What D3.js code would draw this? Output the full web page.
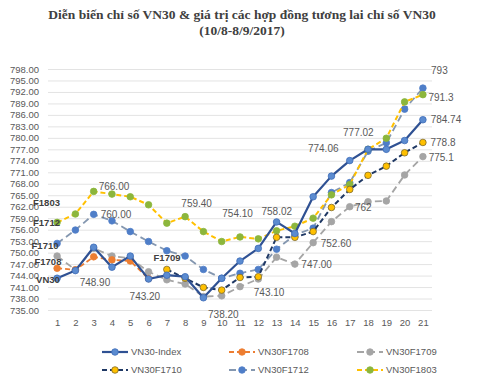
<!DOCTYPE html>
<html><head><meta charset="utf-8">
<script src="https://cdn.jsdelivr.net/npm/d3@7/dist/d3.min.js"></script>
<style>body{margin:0;background:#fff;} svg{display:block;}</style>
</head><body>
<svg id="chart" width="500" height="384"></svg>
<script>
const categories = d3.range(1, 22);
const yTicks = d3.range(735, 799, 3);
const titleLines = ["Diễn biến chỉ số VN30 & giá trị các hợp đồng tương lai chỉ số VN30", "(10/8-8/9/2017)"];

const vn30Index = [743.3, 745.3, 751.4, 746.2, 749.1, 743.1, 744.1, 743.7, 738.2, 743.3, 747.8, 751.1, 758.02, 755.0, 764.6, 770.0, 774.06, 777.02, 777.0, 779.3, 784.74];
const vn30F1708 = [745.9, 745.5, 748.9, 748.1, 747.8, 743.2, null, null, null, null, null, null, null, null, null, null, null, null, null, null, null];
const vn30F1709 = [749.1, 745.5, 751.1, 749.1, 748.5, 745.0, 742.9, 741.8, 738.5, 738.7, 741.1, 743.1, 748.8, 747.0, 752.6, 758.1, 762.0, 763.3, 763.5, 770.3, 775.1];
const vn30F1710 = [null, null, null, null, null, null, 745.6, 743.3, 740.9, 740.2, 743.5, 743.7, 754.0, 754.0, 755.5, 761.8, 766.5, 770.2, 772.6, 776.1, 778.8];
const vn30F1712 = [752.4, 755.9, 760.0, 758.3, 755.5, 752.9, 750.5, 749.1, 745.6, 743.3, 744.6, 745.6, 750.9, 754.6, 756.4, 765.7, 768.3, 776.5, 778.7, 787.5, 793.0];
const vn30F1803 = [757.9, 760.1, 766.0, 765.3, 764.6, 762.5, 757.7, 759.4, 755.5, 752.9, 754.1, 753.6, 755.7, 756.9, 759.0, 765.1, 767.8, 777.0, 779.9, 789.4, 791.3];

const seriesNames = ["VN30-Index", "VN30F1708", "VN30F1709", "VN30F1710", "VN30F1712", "VN30F1803"];
const seriesValues = [vn30Index, vn30F1708, vn30F1709, vn30F1710, vn30F1712, vn30F1803];

// value annotations: text, category position, value position
const valueLabelText = ["766.00","760.00","748.90","743.20","759.40","754.10","758.02","743.10","738.20","774.06","777.02","752.60","747.00","762","793","791.3","784.74","778.8","775.1"];
const valueLabelCat  = [4.11, 4.22, 3.07, 5.80, 8.63, 10.87, 13.01, 12.59, 10.09, 15.55, 17.47, 16.25, 15.19, 17.74, 21.9, 21.99, 22.26, 22.1, 22.0];
const valueLabelVal  = [767.4, 760.0, 742.1, 738.5, 762.9, 760.3, 760.7, 739.6, 733.7, 777.1, 781.5, 752.3, 746.8, 761.8, 797.5, 790.6, 784.7, 778.7, 774.9];

const nameLabelText = ["F1803", "F1712", "F1710", "F1708", "VN30", "F1709"];
const nameLabelCat  = [0.42, 0.42, 0.34, 0.5, 0.5, 7.01];
const nameLabelVal  = [763.0, 757.8, 751.9, 747.6, 743.0, 748.7];

const styles = [
  {stroke:"#2f5193", dash:null, fill:"#5b8bd0", mstroke:"#3d6cb8", width:2.2},
  {stroke:"#ed7d31", dash:"5,3", fill:"#ed7d31", mstroke:"#ed7d31", width:1.8},
  {stroke:"#a5a5a5", dash:"7,4", fill:"#a5a5a5", mstroke:"#a5a5a5", width:1.8},
  {stroke:"#1f3864", dash:"5,3", fill:"#ffc000", mstroke:"#7f6a2a", width:2.0},
  {stroke:"#8497b0", dash:"7,4", fill:"#4f7ec8", mstroke:"#4f7ec8", width:1.8},
  {stroke:"#ffc000", dash:"5,3", fill:"#8cb63c", mstroke:"#8cb63c", width:2.0}
];

const svg = d3.select("#chart");
const plotLeft = 48, plotRight = 432, plotTop = 69, plotBottom = 310;
const x = d3.scalePoint().domain(categories).range([57.1, 422.9]);
const xc = d3.scaleLinear().domain([1, 21]).range([57.1, 422.9]);
const y = d3.scaleLinear().domain([735, 798]).range([plotBottom, plotTop]);

// title
svg.append("g").selectAll("text").data(titleLines).join("text")
  .attr("x", 242).attr("y", (d, i) => 19 + i * 16)
  .attr("text-anchor", "middle")
  .attr("font-family", "Liberation Serif, Times New Roman, serif")
  .attr("font-weight", "bold").attr("font-size", "13.5px").attr("fill", "#404040")
  .text(d => d);

// grid + y axis
const yAxis = d3.axisLeft(y).tickValues(yTicks).tickFormat(d3.format(".2f")).tickSize(-(plotRight - plotLeft)).tickPadding(9);
const gy = svg.append("g").attr("transform", `translate(${plotLeft},0)`).call(yAxis);
gy.select(".domain").remove();
gy.selectAll(".tick line").attr("stroke", "#e3e3e3").attr("stroke-width", 1);
gy.selectAll(".tick text").attr("fill", "#595959").attr("font-family", "Liberation Sans, Arial, sans-serif").attr("font-size", "9.5px");

// x axis
const xAxis = d3.axisBottom(x).tickSize(0).tickPadding(9);
const gx = svg.append("g").attr("transform", `translate(0,${plotBottom})`).call(xAxis);
gx.select(".domain").remove();
gx.selectAll(".tick text").attr("fill", "#595959").attr("font-family", "Liberation Sans, Arial, sans-serif").attr("font-size", "9.5px");

// series
const line = d3.line().defined(d => d.v !== null).x(d => x(d.c)).y(d => y(d.v));
const drawOrder = [2, 1, 4, 5, 3, 0];
drawOrder.forEach(si => {
  const st = styles[si];
  const pts = categories.map((c, i) => ({c, v: seriesValues[si][i]}));
  const g = svg.append("g");
  g.append("path").datum(pts).attr("d", line).attr("fill", "none")
    .attr("stroke", st.stroke).attr("stroke-width", st.width)
    .attr("stroke-dasharray", st.dash).attr("stroke-linejoin", "round");
  g.selectAll("circle").data(pts.filter(d => d.v !== null)).join("circle")
    .attr("cx", d => x(d.c)).attr("cy", d => y(d.v)).attr("r", 3.3)
    .attr("fill", st.fill).attr("stroke", st.mstroke).attr("stroke-width", 0.8);
});

// value labels
svg.append("g").selectAll("text").data(valueLabelText).join("text")
  .attr("x", (d, i) => xc(valueLabelCat[i])).attr("y", (d, i) => y(valueLabelVal[i]))
  .attr("dy", "0.35em").attr("text-anchor", "middle")
  .attr("font-family", "Liberation Sans, Arial, sans-serif").attr("font-size", "10px")
  .attr("fill", "#595959").text(d => d);

// name labels
svg.append("g").selectAll("text").data(nameLabelText).join("text")
  .attr("x", (d, i) => xc(nameLabelCat[i])).attr("y", (d, i) => y(nameLabelVal[i]))
  .attr("dy", "0.35em").attr("text-anchor", "middle")
  .attr("font-family", "Liberation Sans, Arial, sans-serif").attr("font-size", "9.5px")
  .attr("font-weight", "bold").attr("fill", "#404040").text(d => d);

// legend
const legX = [102, 229, 357];
const legY = [352, 370];
const leg = svg.append("g");
seriesNames.forEach((name, i) => {
  const st = styles[i];
  const lx = legX[i % 3], ly = legY[Math.floor(i / 3)];
  leg.append("line").attr("x1", lx).attr("x2", lx + 26).attr("y1", ly).attr("y2", ly)
    .attr("stroke", st.stroke).attr("stroke-width", st.width).attr("stroke-dasharray", st.dash);
  leg.append("circle").attr("cx", lx + 13).attr("cy", ly).attr("r", 3.3)
    .attr("fill", st.fill).attr("stroke", st.mstroke).attr("stroke-width", 0.8);
  leg.append("text").attr("x", lx + 29).attr("y", ly).attr("dy", "0.35em")
    .attr("font-family", "Liberation Sans, Arial, sans-serif").attr("font-size", "9.5px")
    .attr("fill", "#595959").text(name);
});
</script>
</body></html>
